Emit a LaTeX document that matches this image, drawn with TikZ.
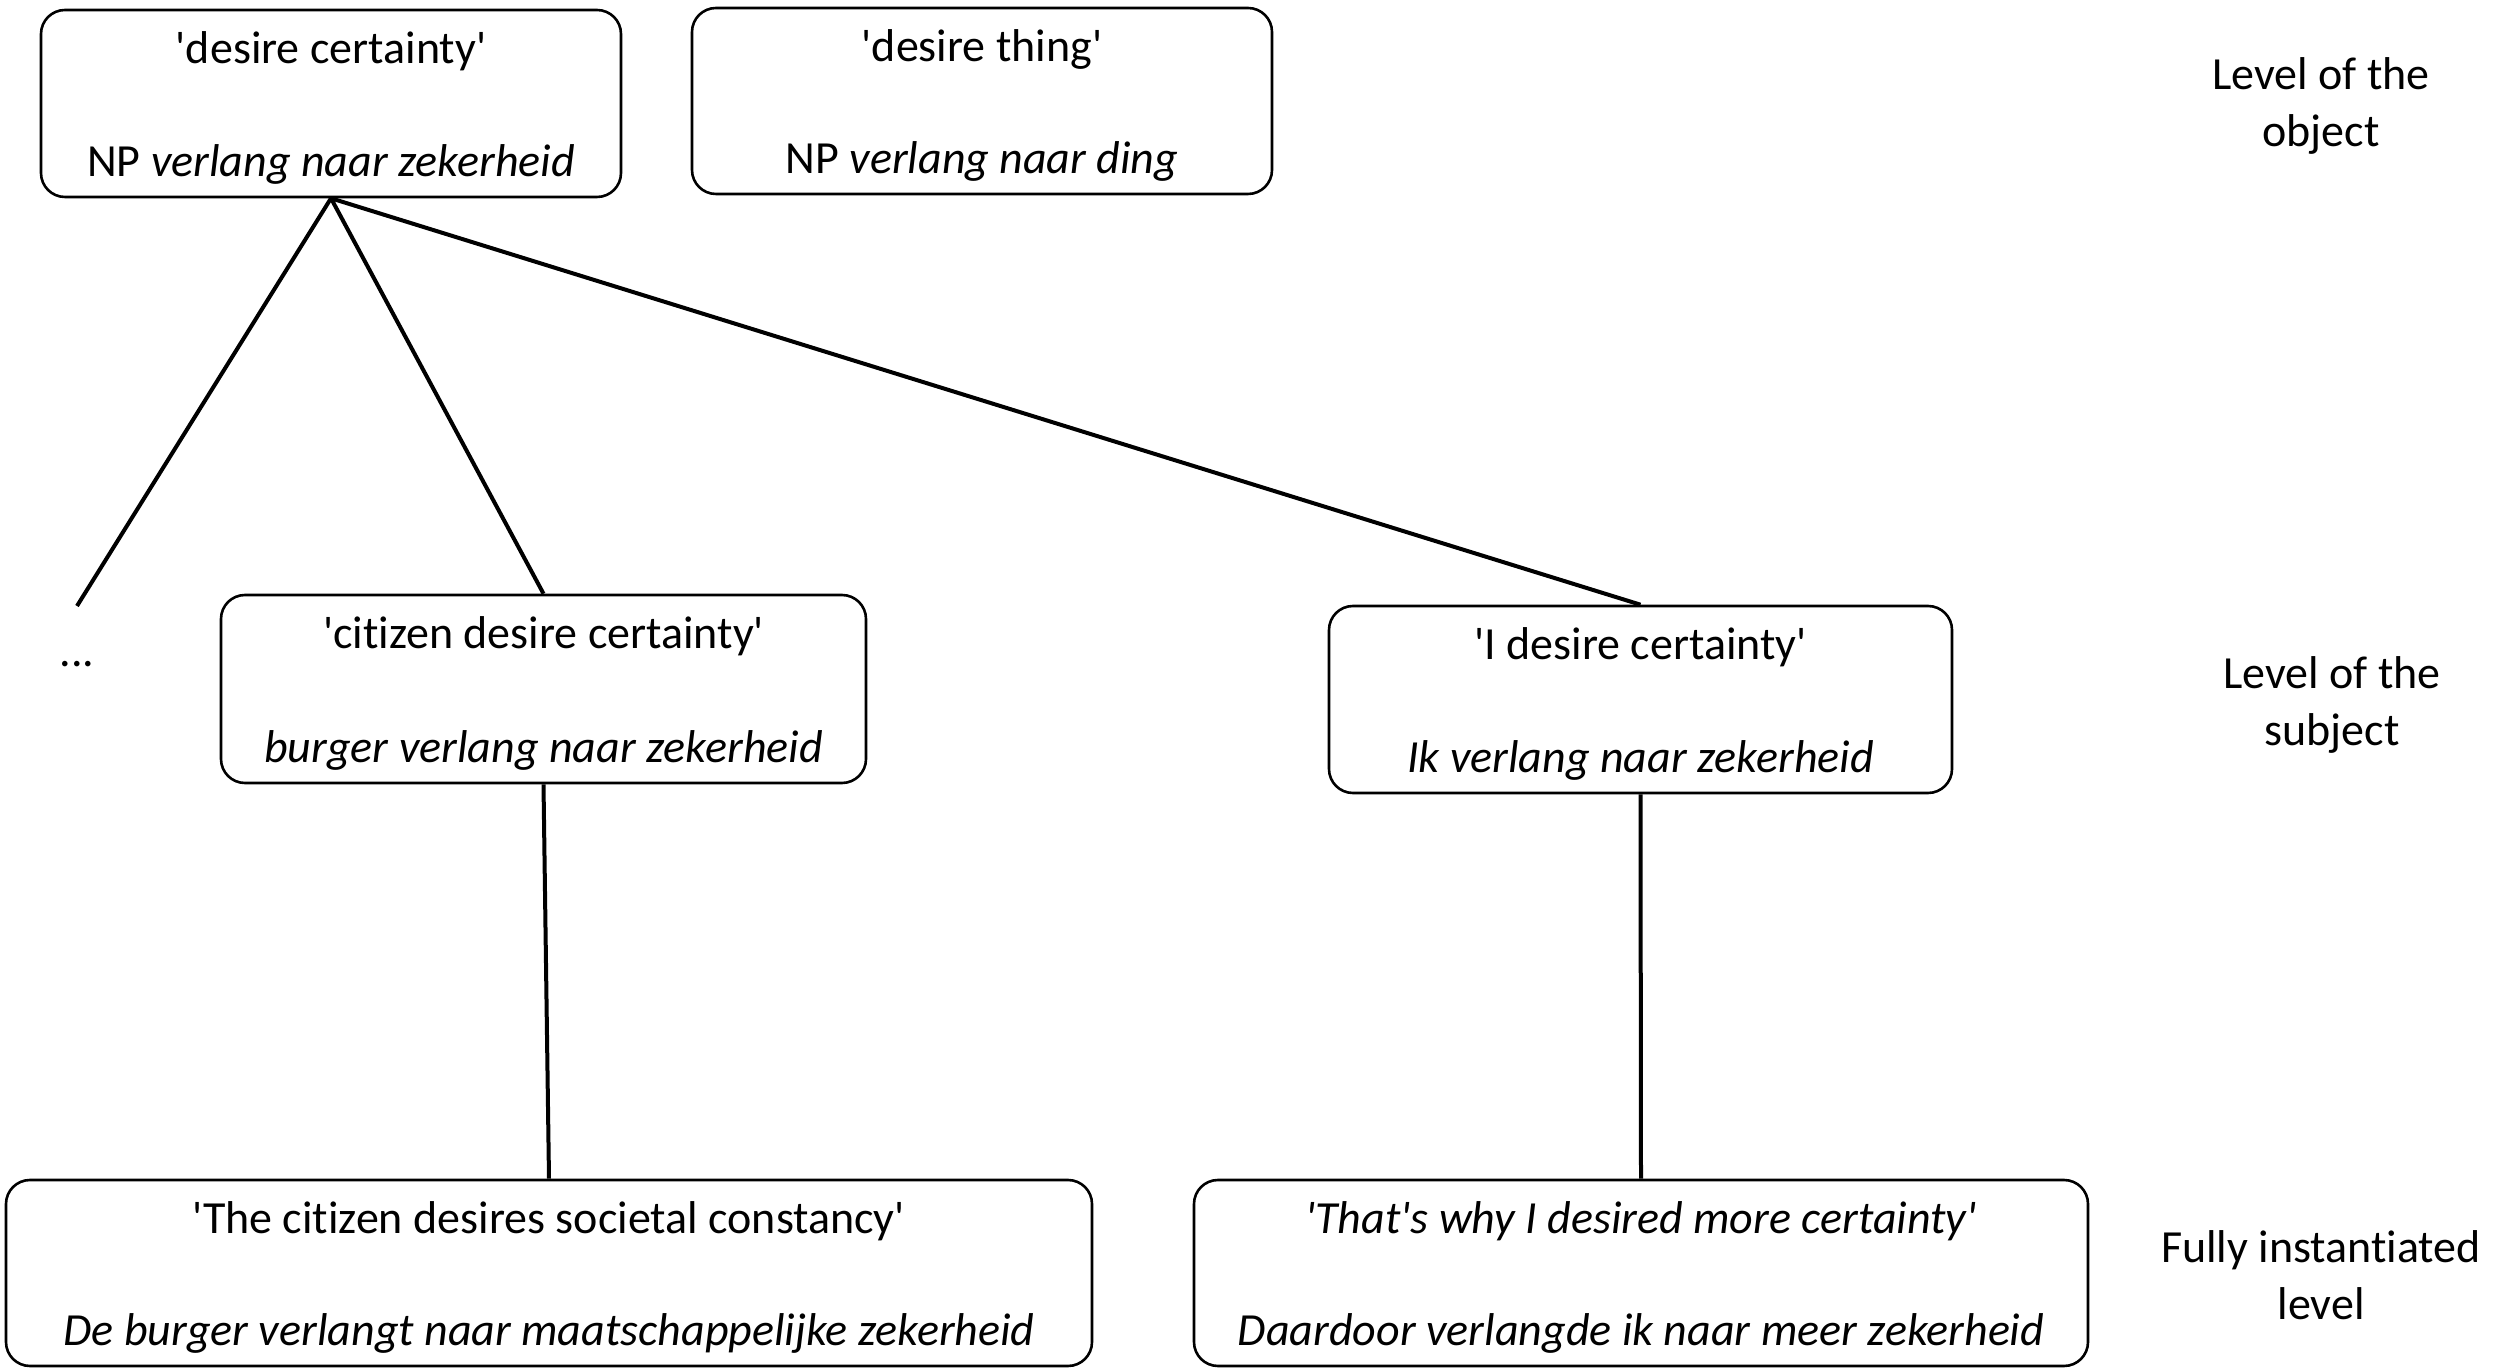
\documentclass[tikz,border=0pt]{standalone}
\usepackage{fontspec}
\setmainfont{Carlito}[Ligatures={TeXOff,NoCommon}]
\begin{document}
\begin{tikzpicture}[x=0.5pt,y=-0.5pt,
  box/.style={draw,line width=1.3pt,rounded corners=12pt,inner sep=0pt},
  txt/.style={inner sep=0pt,font=\fontsize{23}{28}\selectfont},
  lvl/.style={inner sep=0pt,align=center,font=\fontsize{23}{28.5}\selectfont},
  link/.style={line width=2pt}]
\useasboundingbox (0,0) rectangle (2496,1368);
% boxes
\node[box,minimum width=290pt,minimum height=93.5pt] (b1) at (331,103.5) {};
\node[box,minimum width=290pt,minimum height=93pt] (b2) at (982,101) {};
\node[box,minimum width=322.5pt,minimum height=94pt] (cit) at (543.5,689) {};
\node[box,minimum width=311.5pt,minimum height=93.5pt] (ik) at (1640.5,699.5) {};
\node[box,minimum width=543pt,minimum height=93pt] (bl) at (549,1273) {};
\node[box,minimum width=447pt,minimum height=93pt] (br) at (1641,1273) {};
% texts
\node[txt,anchor=mid] (b1a) at ([yshift=-25pt]b1.north) {'desire certainty'};
\node[txt,anchor=mid] (b1b) at ([yshift=13.5pt]b1.south) {NP \textit{verlang naar zekerheid}};
\node[txt,anchor=mid] (b2a) at ([yshift=-25pt]b2.north) {'desire thing'};
\node[txt,anchor=mid] (b2b) at ([yshift=13.5pt]b2.south) {NP \textit{verlang naar ding}};
\node[txt,anchor=mid] (cita) at ([yshift=-25pt]cit.north) {'citizen desire certainty'};
\node[txt,anchor=mid] (citb) at ([yshift=13.5pt]cit.south) {\textit{burger verlang naar zekerheid}};
\node[txt,anchor=mid] (ika) at ([yshift=-25pt]ik.north) {'I desire certainty'};
\node[txt,anchor=mid] (ikb) at ([yshift=13.5pt]ik.south) {\textit{Ik verlang naar zekerheid}};
\node[txt,anchor=mid] (bla) at ([yshift=-25pt]bl.north) {'The citizen desires societal constancy'};
\node[txt,anchor=mid] (blb) at ([yshift=13.5pt]bl.south) {\textit{De burger verlangt naar maatschappelijke zekerheid}};
\node[txt,anchor=mid] (bra) at ([yshift=-25pt]br.north) {\textit{'That's why I desired more certainty'}};
\node[txt,anchor=mid] (brb) at ([yshift=13.5pt]br.south) {\textit{Daardoor verlangde ik naar meer zekerheid}};
% level labels
\node[lvl] (l1) at (2321,106) {Level of the\\object};
\node[lvl] (l2) at (2332,705) {Level of the\\subject};
\node[lvl] (l3) at (2321,1275) {Fully instantiated\\level};
\node[txt] (dots) at (77,664) {...};
% connectors
\coordinate (dd) at (77,606);
\draw[link] (b1.south) -- (dd);
\draw[link] (b1.south) -- (cit.north);
\draw[link] (b1.south) -- (ik.north);
\draw[link] (cit.south) -- (bl.north);
\draw[link] (ik.south) -- (br.north);
\end{tikzpicture}
\end{document}
